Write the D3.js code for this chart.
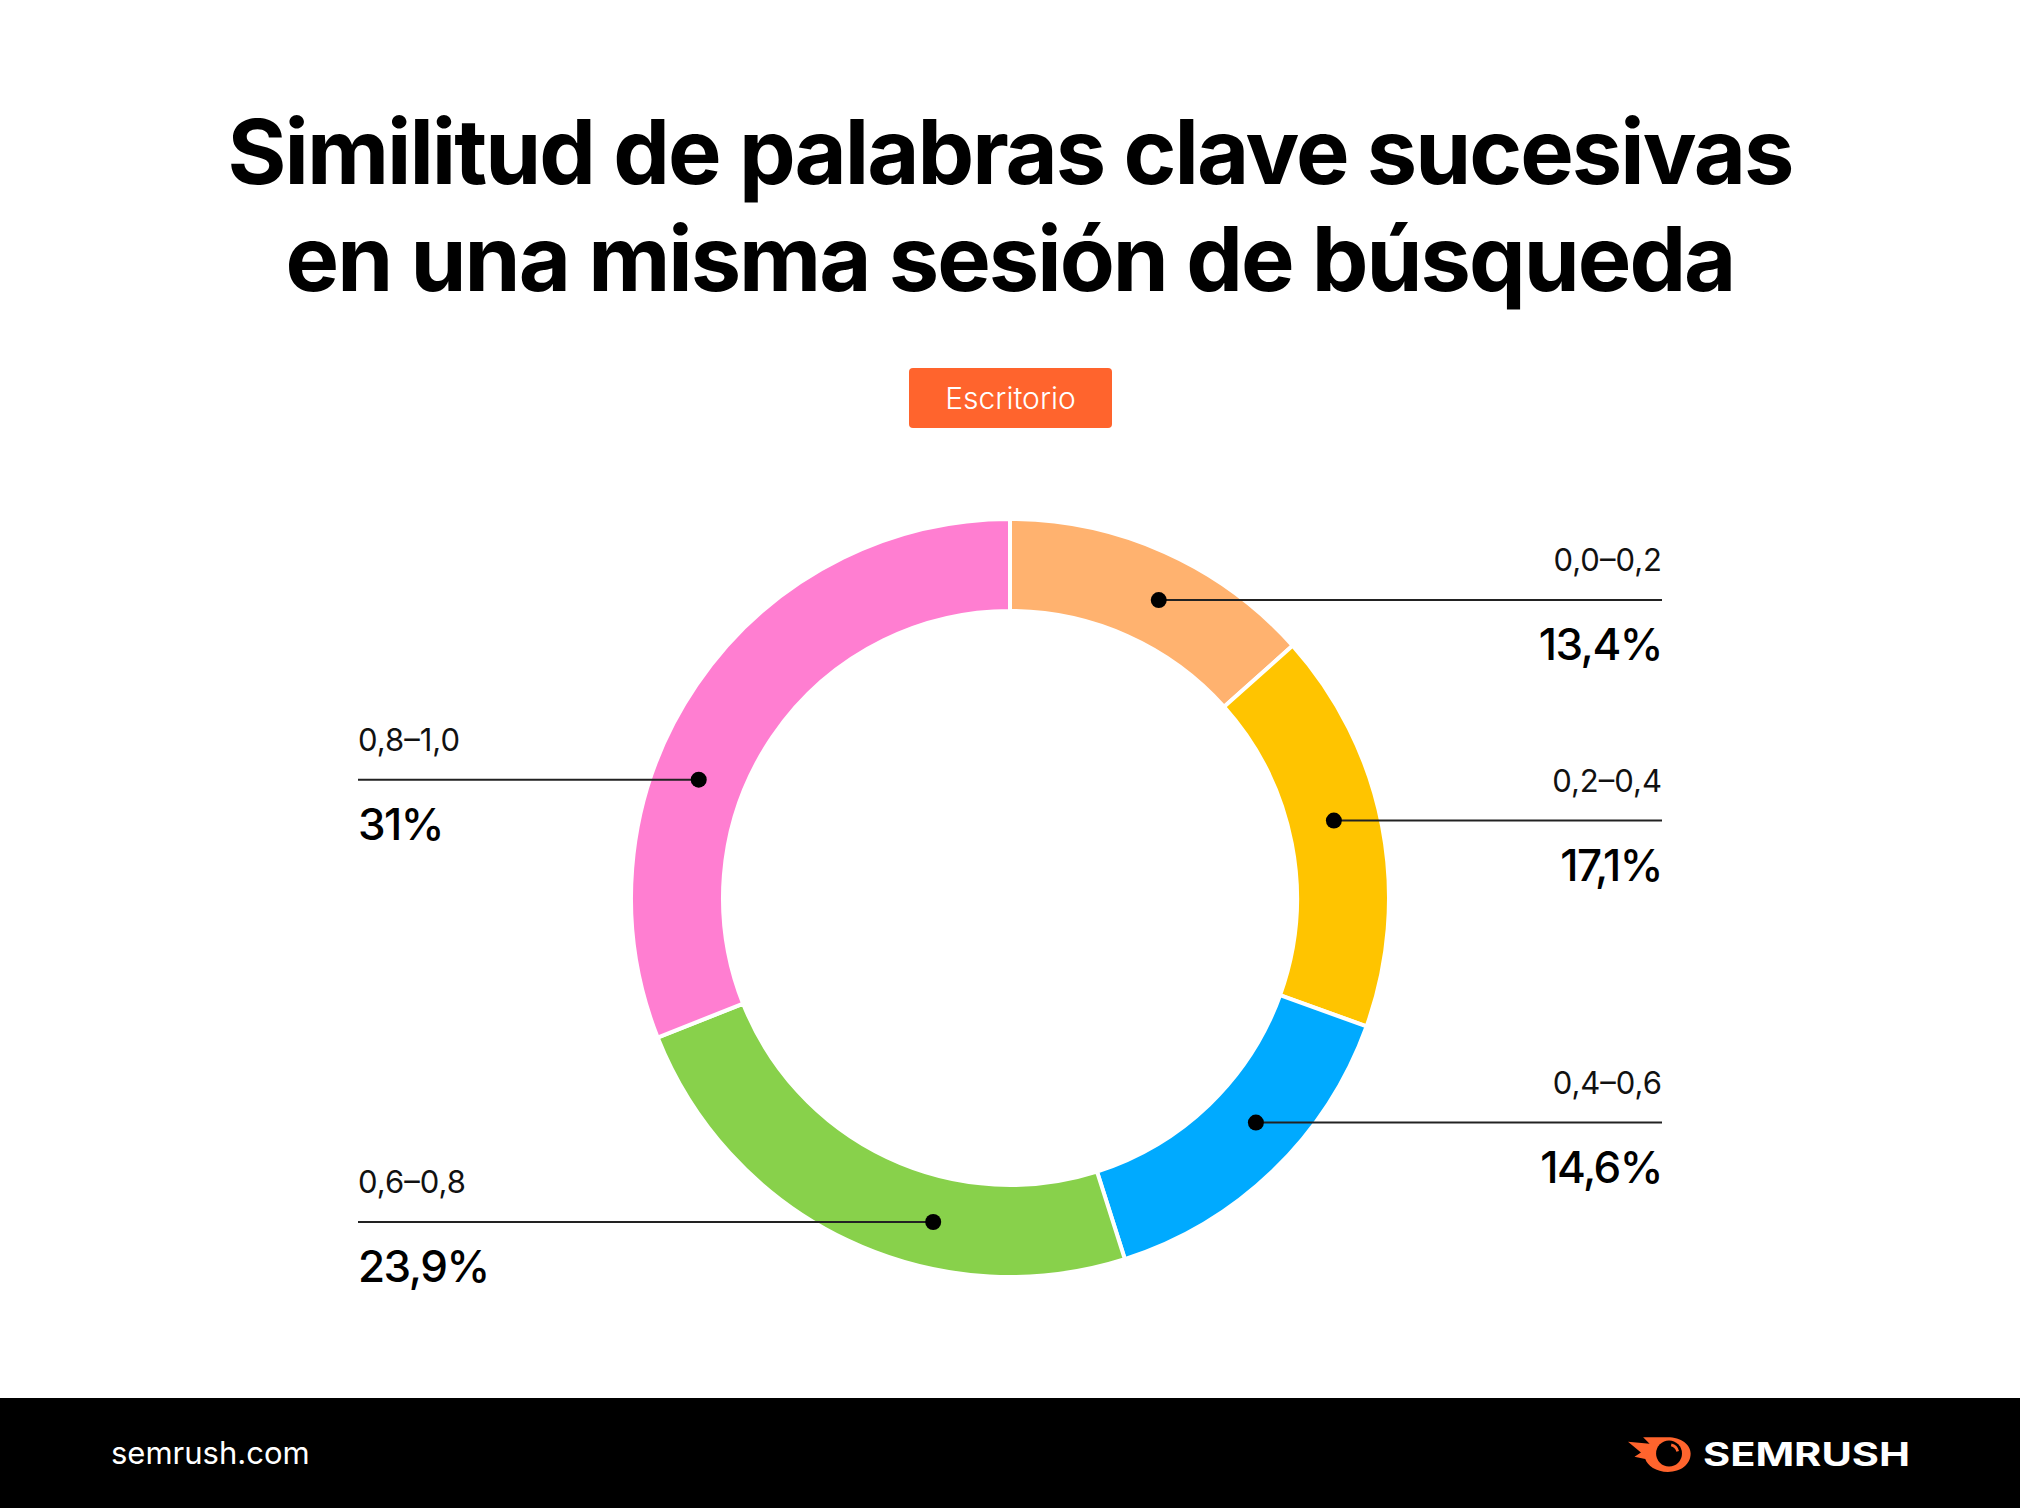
<!DOCTYPE html>
<html>
<head>
<meta charset="utf-8">
<script src="https://cdn.jsdelivr.net/npm/d3@7"></script>
<style>
  body { margin: 0; background: #fff; }
  svg { display: block; font-family: Inter, "Noto Sans", sans-serif; }
</style>
</head>
<body>
<script>
// data
const ranges = ['0,0–0,2', '0,2–0,4', '0,4–0,6', '0,6–0,8', '0,8–1,0'];
const shares = [13.4, 17.1, 14.6, 23.9, 31];
const shareLabels = ['13,4%', '17,1%', '14,6%', '23,9%', '31%'];
const colors = ['#ffb26f', '#ffc400', '#00aaff', '#88d14b', '#ff7ed1'];

// where the callout dot sits inside each slice (fraction of its angle)
const dotFrac = [0.55, 0.46, 0.43, 0.36, 0.38];

const W = 2020, H = 1508;
const cx = 1010, cy = 898;
const rOuter = 379, rInner = 287;

const svg = d3.select('body').append('svg')
    .attr('width', W)
    .attr('height', H);

// title
svg.append('text')
    .attr('x', W / 2).attr('y', 184)
    .attr('text-anchor', 'middle')
    .attr('font-size', 90).attr('font-weight', 700)
    .attr('letter-spacing', -2)
    .text('Similitud de palabras clave sucesivas');
svg.append('text')
    .attr('x', W / 2).attr('y', 291)
    .attr('text-anchor', 'middle')
    .attr('font-size', 90).attr('font-weight', 700)
    .attr('letter-spacing', -2)
    .text('en una misma sesión de búsqueda');

// badge
svg.append('rect')
    .attr('x', 909).attr('y', 368)
    .attr('width', 203).attr('height', 60)
    .attr('rx', 4)
    .attr('fill', '#ff642d');
svg.append('text')
    .attr('x', 1010.5).attr('y', 409)
    .attr('text-anchor', 'middle')
    .attr('font-size', 30).attr('font-weight', 300)
    .attr('fill', '#fff')
    .text('Escritorio');

// donut
const pie = d3.pie().sort(null).value(d => d);
const arcs = pie(shares);
const arc = d3.arc().innerRadius(rInner).outerRadius(rOuter);

const g = svg.append('g').attr('transform', `translate(${cx},${cy})`);
g.selectAll('path')
    .data(arcs)
    .enter()
    .append('path')
    .attr('d', arc)
    .attr('fill', (d, i) => colors[i])
    .attr('stroke', '#fff')
    .attr('stroke-width', 4);

// callouts
const rMid = (rInner + rOuter) / 2;
const rightX = 1662, leftX = 358;

arcs.forEach((d, i) => {
    const a = d.startAngle + (d.endAngle - d.startAngle) * dotFrac[i];
    const x = cx + rMid * Math.sin(a);
    const y = cy - rMid * Math.cos(a);
    const right = x > cx;
    const lx = right ? rightX : leftX;

    svg.append('line')
        .attr('x1', x).attr('y1', y)
        .attr('x2', lx).attr('y2', y)
        .attr('stroke', '#222')
        .attr('stroke-width', 2);
    svg.append('circle')
        .attr('cx', x).attr('cy', y)
        .attr('r', 8)
        .attr('fill', '#000');

    svg.append('text')
        .attr('x', lx).attr('y', y - 29)
        .attr('text-anchor', right ? 'end' : 'start')
        .attr('font-size', 31)
        .attr('fill', '#111')
        .text(ranges[i]);
    svg.append('text')
        .attr('x', lx).attr('y', y + 60)
        .attr('text-anchor', right ? 'end' : 'start')
        .attr('font-size', 44).attr('font-weight', 500)
        .attr('letter-spacing', -1.5)
        .attr('fill', '#000')
        .text(shareLabels[i]);
});

// footer
svg.append('rect')
    .attr('x', 0).attr('y', 1398)
    .attr('width', W).attr('height', H - 1398)
    .attr('fill', '#000');
svg.append('text')
    .attr('x', 111).attr('y', 1464)
    .attr('font-size', 31)
    .attr('fill', '#fff')
    .text('semrush.com');

// logo
const logo = svg.append('g').attr('transform', 'translate(1628,1433) scale(1.08)');
logo.append('path')
    .attr('d', 'M0,8 L20,10 L14,4 L34,4 C48,3 58,10 58,19 C58,29 49,36 37,36 C26,36 18,30 16,24 L6,22 L12,18 Z')
    .attr('fill', '#ff642d');
logo.append('circle')
    .attr('cx', 38).attr('cy', 19).attr('r', 12)
    .attr('fill', '#000');
logo.append('path')
    .attr('d', 'M40,11 A8,8 0 0 1 46,17')
    .attr('fill', 'none')
    .attr('stroke', '#ff642d')
    .attr('stroke-width', 2.5);
svg.append('text')
    .attr('x', 1703).attr('y', 1466)
    .attr('font-size', 32).attr('font-weight', 700)
    .attr('textLength', 207)
    .attr('lengthAdjust', 'spacingAndGlyphs')
    .attr('fill', '#fff')
    .text('SEMRUSH');
</script>
</body>
</html>
